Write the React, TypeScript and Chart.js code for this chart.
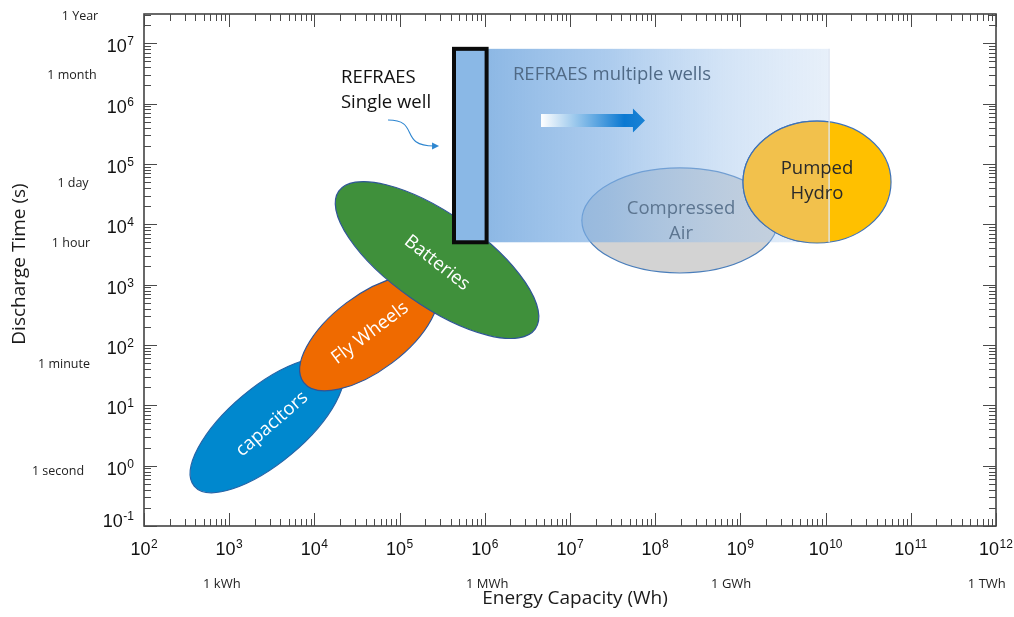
import React, { useEffect, useRef } from "react";
import { Chart, registerables } from "chart.js";

Chart.register(...registerables);

// ---------------- axes ----------------
const X_MIN = 1e2;
const X_MAX = 1e12;
const Y_MIN = 1e-1;
const Y_MAX = 3.06e7;
const X_TICK_EXPONENTS = [2, 3, 4, 5, 6, 7, 8, 9, 10, 11, 12];
const Y_TICK_EXPONENTS = [-1, 0, 1, 2, 3, 4, 5, 6, 7];
const X_TITLE = "Energy Capacity (Wh)";
const Y_TITLE = "Discharge Time (s)";

// reference unit labels
const X_UNIT_LABELS = ["1 kWh", "1 MWh", "1 GWh", "1 TWh"];
const X_UNIT_VALUES = [8.2e2, 1.07e6, 7.8e8, 7.8e11];
const Y_UNIT_LABELS = ["1 Year", "1 month", "1 day", "1 hour", "1 minute", "1 second"];
const Y_UNIT_VALUES = [2.75e7, 2.95e6, 4.8e4, 4.8e3, 48, 0.81];

// ---------------- technologies (ellipses) ----------------
const TECH_NAMES = ["capacitors", "Fly Wheels", "Batteries", "Compressed Air", "Pumped Hydro"];
const TECH_CENTER_WH = [2.78e3, 4.38e4, 2.75e5, 1.95e8, 7.93e9];
const TECH_CENTER_S = [4.72, 158, 2558, 1.16e4, 5.02e4];
const TECH_AXIS_END_WH = [1.99e4, 2.57e5, 3.92e6, 2.76e9, 5.86e10];
const TECH_AXIS_END_S = [48.5, 1038, 185, 1.16e4, 5.02e4];
const TECH_MINOR_RATIO = [0.4, 0.46, 0.383, 0.536, 0.824];
const TECH_LABEL_LINES = [["capacitors"], ["Fly Wheels"], ["Batteries"], ["Compressed", "Air"], ["Pumped", "Hydro"]];
const TECH_LABEL_WH = [3.18e3, 4.5e4, 2.75e5, 2.01e8, 7.93e9];
const TECH_LABEL_S = [4.9, 158, 2285, 1.13e4, 5.12e4];

// ---------------- REFRAES ----------------
const SINGLE_WELL_WH = [4.35e5, 1.05e6];
const MULTI_WELL_WH = [1.05e6, 1.1e10];
const WELLS_S = [5.04e3, 8.1e6];
const ARROW_WH = [4.57e6, 5.48e7, 7.59e7]; // tail, head base, tip
const ARROW_S = 5.25e5;
const POINTER_WH = [7.31e4, 2.83e5];
const POINTER_S = [5.36e5, 1.99e5];
const NOTE_TEXTS = ["REFRAES", "Single well", "REFRAES multiple wells"];
const NOTE_WH = [2.05e4, 2.05e4, 2.14e6];
const NOTE_S = [2.66e6, 1.04e6, 3.04e6];

// ---------------- styles ----------------
const PADDING = { left: 144, right: 18, top: 14, bottom: 91 };
const TECH_FILL = ["#0088CE", "#EF6A00", "#3F903B", "#D3D3D3", "#FFC000"];
const TECH_FILL_UNDER_BAND = "#F2C14C";
const TECH_STROKE = ["#2563A6", "#2F5597", "#2F5597", "#4A7EBB", "#3E72B8"];
const TECH_TEXT = ["#FFFFFF", "#FFFFFF", "#FFFFFF", "#5C7590", "#2A2A2A"];
const TECH_LABEL_ANGLE = [-41, -37, 38, 0, 0];
const TEXT_FONT = "'Open Sans', 'Noto Sans', sans-serif";
const TICK_FONT = "'Liberation Sans', Arial, sans-serif";
const NOTE_COLORS = ["#111111", "#111111", "#506A86"];
const Y_UNIT_X = [80, 72, 73, 71, 64, 58];
const X_UNIT_Y = 584;

function drawPower(ctx: CanvasRenderingContext2D, exp: number, x: number, baseline: number, align: string) {
  const base = "10";
  const sup = String(exp);
  ctx.font = `18px ${TICK_FONT}`;
  const wb = ctx.measureText(base).width;
  ctx.font = `12px ${TICK_FONT}`;
  const ws = ctx.measureText(sup).width;
  const total = wb + ws + 0.5;
  const left = align === "center" ? x - total / 2 : x - total;
  ctx.textAlign = "left";
  ctx.textBaseline = "alphabetic";
  ctx.fillStyle = "#111";
  ctx.font = `18px ${TICK_FONT}`;
  ctx.fillText(base, left, baseline);
  ctx.font = `12px ${TICK_FONT}`;
  ctx.fillText(sup, left + wb + 0.5, baseline - 7);
}

const diagramPlugin = {
  id: "diagram",
  afterDraw(chart: any) {
    const ctx: CanvasRenderingContext2D = chart.ctx;
    const xs = chart.scales.x;
    const ys = chart.scales.y;
    const X = (v: number) => xs.getPixelForValue(v);
    const Y = (v: number) => ys.getPixelForValue(v);
    const area = chart.chartArea;
    ctx.save();

    const techPath = (i: number) => {
      const cx = X(TECH_CENTER_WH[i]);
      const cy = Y(TECH_CENTER_S[i]);
      const tx = X(TECH_AXIS_END_WH[i]);
      const ty = Y(TECH_AXIS_END_S[i]);
      const a = Math.hypot(tx - cx, ty - cy);
      const ang = Math.atan2(ty - cy, tx - cx);
      ctx.beginPath();
      ctx.ellipse(cx, cy, a, a * TECH_MINOR_RATIO[i], ang, 0, Math.PI * 2);
    };
    const drawTech = (i: number) => {
      techPath(i);
      ctx.fillStyle = TECH_FILL[i];
      ctx.fill();
      ctx.lineWidth = 1.2;
      ctx.strokeStyle = TECH_STROKE[i];
      ctx.stroke();
    };
    const drawTechLabel = (i: number) => {
      const lx = X(TECH_LABEL_WH[i]);
      const ly = Y(TECH_LABEL_S[i]);
      const lines = TECH_LABEL_LINES[i];
      ctx.save();
      ctx.translate(lx, ly);
      ctx.rotate((TECH_LABEL_ANGLE[i] * Math.PI) / 180);
      ctx.font = `18.5px ${TEXT_FONT}`;
      ctx.fillStyle = TECH_TEXT[i];
      ctx.textAlign = "center";
      ctx.textBaseline = "middle";
      const gap = 25;
      lines.forEach((s, k) => {
        ctx.fillText(s, 0, (k - (lines.length - 1) / 2) * gap);
      });
      ctx.restore();
    };
    [0, 1, 2].forEach(drawTech);
    [0, 1, 2].forEach(drawTechLabel);
    drawTech(3);

    // ---- multiple wells gradient band ----
    const gx0 = X(MULTI_WELL_WH[0]);
    const gx1 = X(MULTI_WELL_WH[1]);
    const gy0 = Y(WELLS_S[1]);
    const gy1 = Y(WELLS_S[0]);
    const grad = ctx.createLinearGradient(gx0, 0, gx1, 0);
    grad.addColorStop(0, "rgba(112,166,222,0.80)");
    grad.addColorStop(0.35, "rgba(128,176,228,0.66)");
    grad.addColorStop(0.7, "rgba(160,196,236,0.46)");
    grad.addColorStop(1, "rgba(185,210,240,0.34)");
    ctx.fillStyle = grad;
    ctx.fillRect(gx0, gy0, gx1 - gx0, gy1 - gy0);

    // pumped hydro: warmer tone where the band crosses it
    drawTech(4);
    ctx.save();
    ctx.beginPath();
    ctx.rect(gx0, gy0, gx1 - gx0, gy1 - gy0);
    ctx.clip();
    techPath(4);
    ctx.fillStyle = TECH_FILL_UNDER_BAND;
    ctx.fill();
    ctx.lineWidth = 1.2;
    ctx.strokeStyle = TECH_STROKE[4];
    ctx.stroke();
    ctx.restore();

    ctx.beginPath();
    ctx.moveTo(gx1, gy0);
    ctx.lineTo(gx1, gy1);
    ctx.strokeStyle = "rgba(222,230,242,0.9)";
    ctx.lineWidth = 1.5;
    ctx.stroke();
    [3, 4].forEach(drawTechLabel);

    // ---- single well box ----
    const sx0 = X(SINGLE_WELL_WH[0]);
    const sx1 = X(SINGLE_WELL_WH[1]);
    ctx.fillStyle = "#8AB8E6";
    ctx.fillRect(sx0, gy0, sx1 - sx0, gy1 - gy0);
    ctx.lineWidth = 4;
    ctx.strokeStyle = "#0A0A0A";
    ctx.strokeRect(sx0, gy0, sx1 - sx0, gy1 - gy0);

    // ---- gradient arrow ----
    const ax0 = X(ARROW_WH[0]);
    const axh = X(ARROW_WH[1]);
    const axt = X(ARROW_WH[2]);
    const ay = Y(ARROW_S);
    const ag = ctx.createLinearGradient(ax0, 0, axt, 0);
    ag.addColorStop(0, "rgba(255,255,255,1)");
    ag.addColorStop(0.8, "#0B79D2");
    ag.addColorStop(1, "#1A82D4");
    ctx.beginPath();
    ctx.moveTo(ax0, ay - 6.5);
    ctx.lineTo(axh, ay - 6.5);
    ctx.lineTo(axh, ay - 12);
    ctx.lineTo(axt, ay);
    ctx.lineTo(axh, ay + 12);
    ctx.lineTo(axh, ay + 6.5);
    ctx.lineTo(ax0, ay + 6.5);
    ctx.closePath();
    ctx.fillStyle = ag;
    ctx.fill();

    // ---- curved pointer ----
    const px0 = X(POINTER_WH[0]);
    const py0 = Y(POINTER_S[0]);
    const px1 = X(POINTER_WH[1]);
    const py1 = Y(POINTER_S[1]);
    const dx = px1 - px0;
    ctx.beginPath();
    ctx.moveTo(px0, py0);
    ctx.bezierCurveTo(px0 + dx * 0.65, py0, px0 + dx * 0.2, py1, px1 - 4, py1);
    ctx.strokeStyle = "#2E86D0";
    ctx.lineWidth = 1.1;
    ctx.stroke();
    ctx.beginPath();
    ctx.moveTo(px1 + 1, py1);
    ctx.lineTo(px1 - 6, py1 - 3.5);
    ctx.lineTo(px1 - 6, py1 + 3.5);
    ctx.closePath();
    ctx.fillStyle = "#2E86D0";
    ctx.fill();

    // ---- notes ----
    ctx.font = `18.5px ${TEXT_FONT}`;
    ctx.textAlign = "left";
    ctx.textBaseline = "middle";
    NOTE_TEXTS.forEach((s, i) => {
      ctx.fillStyle = NOTE_COLORS[i];
      ctx.fillText(s, X(NOTE_WH[i]), Y(NOTE_S[i]));
    });

    // ---- axes frame ----
    ctx.strokeStyle = "#444444";
    ctx.lineWidth = 1.6;
    ctx.strokeRect(area.left, area.top, area.right - area.left, area.bottom - area.top);

    // minor/major ticks pointing inward
    ctx.lineWidth = 1;
    ctx.strokeStyle = "#4A4A4A";
    ctx.beginPath();
    for (let e = X_TICK_EXPONENTS[0]; e <= X_TICK_EXPONENTS[X_TICK_EXPONENTS.length - 1]; e++) {
      for (let m = 1; m <= 9; m++) {
        const v = m * Math.pow(10, e);
        if (v < X_MIN * 0.999 || v > X_MAX * 1.001) continue;
        const p = Math.round(X(v)) + 0.5;
        const len = m === 1 ? 13 : 7;
        ctx.moveTo(p, area.bottom);
        ctx.lineTo(p, area.bottom - len);
        ctx.moveTo(p, area.top);
        ctx.lineTo(p, area.top + len);
      }
    }
    for (let e = Y_TICK_EXPONENTS[0]; e <= 7; e++) {
      for (let m = 1; m <= 9; m++) {
        const v = m * Math.pow(10, e);
        if (v < Y_MIN * 0.999 || v > Y_MAX * 1.001) continue;
        const p = Math.round(Y(v)) + 0.5;
        const len = m === 1 ? 13 : 7;
        ctx.moveTo(area.left, p);
        ctx.lineTo(area.left + len, p);
        ctx.moveTo(area.right, p);
        ctx.lineTo(area.right - len, p);
      }
    }
    ctx.stroke();

    // tick labels
    X_TICK_EXPONENTS.forEach((e) => {
      drawPower(ctx, e, X(Math.pow(10, e)), area.bottom + 29, "center");
    });
    Y_TICK_EXPONENTS.forEach((e) => {
      const ty = Y(Math.pow(10, e));
      const base = Math.min(ty + 9, area.bottom + 1);
      drawPower(ctx, e, area.left - 10, base, "right");
    });

    // unit labels
    ctx.fillStyle = "#222";
    ctx.textBaseline = "middle";
    ctx.textAlign = "center";
    ctx.font = `13px ${TEXT_FONT}`;
    X_UNIT_LABELS.forEach((s, i) => ctx.fillText(s, X(X_UNIT_VALUES[i]), X_UNIT_Y));
    ctx.font = `12.5px ${TEXT_FONT}`;
    Y_UNIT_LABELS.forEach((s, i) => ctx.fillText(s, Y_UNIT_X[i], Y(Y_UNIT_VALUES[i])));

    // axis titles
    ctx.font = `19px ${TEXT_FONT}`;
    ctx.fillStyle = "#1A1A1A";
    ctx.textAlign = "center";
    ctx.textBaseline = "alphabetic";
    ctx.fillText(X_TITLE, (area.left + area.right) / 2 + 5, 604);
    ctx.save();
    ctx.translate(25, (area.top + area.bottom) / 2 - 6);
    ctx.rotate(-Math.PI / 2);
    ctx.fillText(Y_TITLE, 0, 0);
    ctx.restore();

    ctx.restore();
  },
};

export default function App() {
  const ref = useRef<HTMLCanvasElement>(null);
  useEffect(() => {
    const canvas = ref.current;
    if (!canvas) return;
    const chart = new Chart(canvas, {
      type: "scatter",
      data: {
        datasets: [
          {
            label: "technologies",
            data: TECH_NAMES.map((_, i) => ({ x: TECH_CENTER_WH[i], y: TECH_CENTER_S[i] })),
            pointRadius: 0,
            showLine: false,
          },
        ],
      },
      options: {
        animation: false,
        responsive: false,
        devicePixelRatio: 1,
        events: [],
        layout: { padding: PADDING },
        plugins: {
          legend: { display: false },
          tooltip: { enabled: false },
          title: { display: false },
        },
        scales: {
          x: { type: "logarithmic", min: X_MIN, max: X_MAX, display: false },
          y: { type: "logarithmic", min: Y_MIN, max: Y_MAX, display: false },
        },
      },
      plugins: [diagramPlugin],
    } as any);
    return () => chart.destroy();
  }, []);
  return (
    <div style={{ position: "absolute", left: 0, top: 0, width: 1014, height: 617, background: "#fff" }}>
      <canvas ref={ref} width={1014} height={617} style={{ display: "block", width: "1014px", height: "617px" }} />
    </div>
  );
}
